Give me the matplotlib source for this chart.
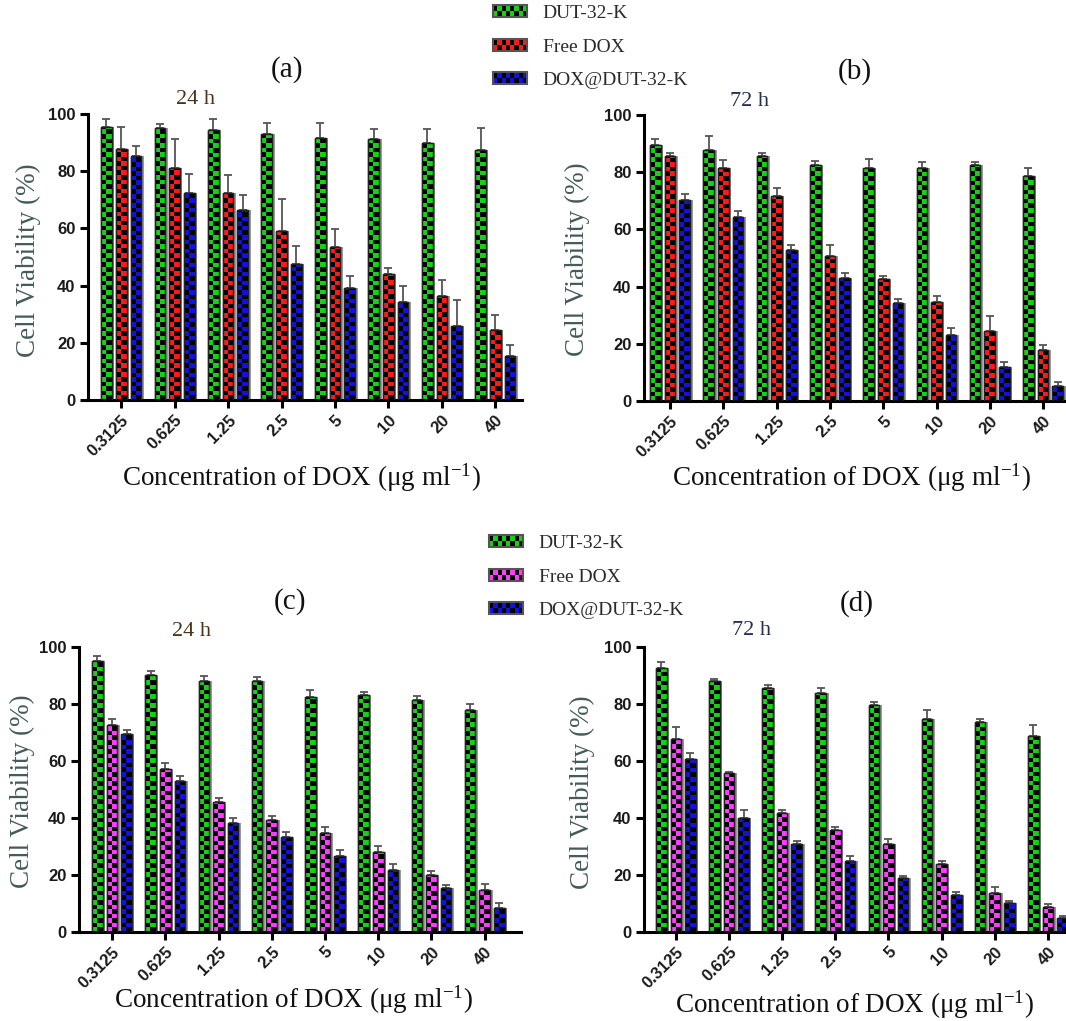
import numpy as np
import matplotlib
matplotlib.use('Agg')
import matplotlib.pyplot as plt
import matplotlib.patheffects as pe
from matplotlib.colors import ListedColormap
from matplotlib.patches import Patch, Rectangle
from matplotlib.legend_handler import HandlerBase

plt.rcParams['mathtext.fontset'] = 'custom'
plt.rcParams['mathtext.rm'] = 'Liberation Serif'
plt.rcParams['mathtext.it'] = 'Liberation Serif:italic'

conc = ['0.3125', '0.625', '1.25', '2.5', '5', '10', '20', '40']
series = ['DUT-32-K', 'Free DOX', 'DOX@DUT-32-K']

# (a) 24 h
a_dut = [95.6, 95.2, 94.3, 93.1, 91.7, 91.1, 90.0, 87.3]
a_dut_sd = [2.5, 1.3, 3.8, 3.6, 5.0, 3.8, 4.6, 7.9]
a_free = [87.8, 81.2, 72.3, 59.2, 53.4, 44.1, 36.4, 24.5]
a_free_sd = [7.5, 10.1, 6.3, 11.1, 6.4, 2.2, 5.4, 5.3]
a_dox = [85.3, 72.3, 66.3, 47.4, 39.3, 34.4, 26.0, 15.5]
a_dox_sd = [3.6, 6.6, 5.4, 6.6, 4.2, 5.5, 9.0, 3.7]

# (b) 72 h
b_dut = [89.5, 87.6, 85.7, 82.6, 81.6, 81.6, 82.6, 78.7]
b_dut_sd = [2.2, 5.1, 0.9, 1.2, 2.9, 2.1, 1.1, 2.9]
b_free = [85.7, 81.6, 71.7, 50.6, 42.5, 34.6, 24.6, 17.7]
b_free_sd = [0.9, 2.8, 2.9, 4.1, 1.2, 2.0, 5.0, 1.9]
b_dox = [70.2, 64.2, 52.7, 43.1, 34.1, 23.1, 11.8, 5.2]
b_dox_sd = [2.3, 2.4, 1.8, 1.5, 1.6, 2.5, 1.8, 1.6]

# (c) 24 h
c_dut = [95.2, 90.2, 88.2, 88.2, 82.3, 83.2, 81.4, 77.9]
c_dut_sd = [1.6, 1.3, 1.5, 1.1, 2.5, 1.0, 1.5, 2.0]
c_free = [72.8, 57.2, 45.5, 39.3, 34.9, 28.0, 20.0, 14.7]
c_free_sd = [2.1, 2.0, 1.6, 1.5, 2.0, 2.0, 1.5, 2.0]
c_dox = [69.3, 53.0, 38.3, 33.3, 26.8, 21.8, 15.4, 8.4]
c_dox_sd = [1.6, 1.8, 1.6, 1.7, 2.1, 2.0, 1.0, 1.6]

# (d) 72 h
d_dut = [92.8, 87.9, 85.6, 83.8, 79.8, 74.9, 73.6, 68.8]
d_dut_sd = [2.1, 0.9, 1.1, 1.8, 0.8, 2.9, 1.3, 4.0]
d_free = [67.8, 55.7, 41.8, 35.8, 30.7, 23.8, 13.8, 8.9]
d_free_sd = [4.0, 0.3, 1.0, 1.0, 2.1, 1.1, 2.0, 1.0]
d_dox = [60.7, 39.9, 30.8, 24.9, 18.8, 13.0, 10.0, 4.9]
d_dox_sd = [2.1, 2.9, 1.1, 1.9, 1.0, 0.9, 1.0, 0.8]

green = '#14d214'
red = '#ff1a1a'
blue = '#1212e0'
pink = '#ff3cff'

SERIF = 'Liberation Serif'
SANS = 'Liberation Sans'


class CheckerHandler(HandlerBase):
    def create_artists(self, legend, orig_handle, xdescent, ydescent,
                       width, height, fontsize, trans):
        color = orig_handle.get_facecolor()
        x0, y0 = -xdescent, -ydescent
        arts = [Rectangle((x0, y0), width, height, facecolor=color,
                          edgecolor='none', transform=trans)]
        ncol, nrow = 8, 2
        cw, ch = width / ncol, height / nrow
        for i in range(ncol):
            for j in range(nrow):
                if (i + j) % 2:
                    arts.append(Rectangle((x0 + i * cw, y0 + j * ch), cw, ch,
                                          facecolor='black', edgecolor='none',
                                          transform=trans))
        arts.append(Rectangle((x0, y0), width, height, facecolor='none',
                              edgecolor='#555555', lw=1.5, transform=trans))
        return arts


def checker_bars(ax, x, vals, sd, color, width=0.2, sq=1.6):
    bars = ax.bar(x, vals, width, color=color, edgecolor='#222222', lw=1.0,
                  zorder=2,
                  path_effects=[pe.SimplePatchShadow(offset=(1.8, 0),
                                                     shadow_rgbFace='#9a9a9a',
                                                     alpha=1.0),
                                pe.Normal()])
    cmap = ListedColormap([color, 'black'])
    for b in bars:
        h = b.get_height()
        nrow = int(np.ceil(h / sq))
        img = (np.add.outer(np.arange(nrow), np.arange(2)) % 2)[::-1]
        im = ax.imshow(img, cmap=cmap, vmin=0, vmax=1, aspect='auto',
                       interpolation='nearest', zorder=2.5,
                       extent=(b.get_x(), b.get_x() + b.get_width(), 0, nrow * sq))
        im.set_clip_path(b)
        ax.add_patch(Rectangle((b.get_x(), 0), b.get_width(), h, facecolor='none',
                               edgecolor='#222222', lw=1.0, zorder=2.6))
    ax.errorbar(x, vals, yerr=[np.zeros(len(vals)), sd], fmt='none',
                ecolor='#555555', elinewidth=1.3, capsize=3, capthick=1.3,
                zorder=1.8)


def panel(rect, xlim, data, colors):
    ax = fig.add_axes(rect)
    x = np.arange(len(conc))
    offs = [-0.275, 0.0, 0.275]
    for (vals, sd), c, o in zip(data, colors, offs):
        checker_bars(ax, x + o, vals, sd, c)
    ax.set_xlim(*xlim)
    ax.set_ylim(0, 100)
    ax.set_yticks([0, 20, 40, 60, 80, 100])
    ax.set_xticks(x)
    ax.set_xticklabels(conc, rotation=45, ha='right', rotation_mode='anchor')
    for s in ['top', 'right']:
        ax.spines[s].set_visible(False)
    for s in ['left', 'bottom']:
        ax.spines[s].set_linewidth(2.2)
    ax.tick_params(direction='out', length=6, width=2.2, pad=3)
    for lab in ax.get_xticklabels() + ax.get_yticklabels():
        lab.set_fontfamily(SANS)
        lab.set_fontweight('bold')
        lab.set_fontsize(12)
        lab.set_color('#1a1a1a')
    return ax


fig = plt.figure(figsize=(10.66, 10.21), dpi=100)

panel([0.0826, 0.6082, 0.4071, 0.2801], (-0.62, 7.5),
      [(a_dut, a_dut_sd), (a_free, a_free_sd), (a_dox, a_dox_sd)],
      [green, red, blue])
panel([0.6041, 0.6072, 0.3959, 0.2802], (-0.49, 7.43),
      [(b_dut, b_dut_sd), (b_free, b_free_sd), (b_dox, b_dox_sd)],
      [green, red, blue])
panel([0.0741, 0.0872, 0.4146, 0.2791], (-0.62, 7.68),
      [(c_dut, c_dut_sd), (c_free, c_free_sd), (c_dox, c_dox_sd)],
      [green, pink, blue])
panel([0.6041, 0.0872, 0.3959, 0.2791], (-0.60, 7.34),
      [(d_dut, d_dut_sd), (d_free, d_free_sd), (d_dox, d_dox_sd)],
      [green, pink, blue])

W, H = 1066.0, 1021.0


def ftext(px, py, s, **kw):
    fig.text(px / W, 1 - py / H, s, ha='center', va='center', **kw)


xlab = 'Concentration of DOX (\u03bcg ml$^{\\mathregular{-1}}$)'
ylab = 'Cell Viability (%)'
ycol = '#455a5a'

for (px, py, s) in [(287, 70, '(a)'), (855, 72, '(b)'), (290, 602, '(c)'), (857, 604, '(d)')]:
    ftext(px, py, s, fontsize=21, family=SERIF, color='#111111')
for (px, py, s, c) in [(196, 100, '24 h', '#4a3418'), (750, 101, '72 h', '#243050'),
                       (192, 632, '24 h', '#4a3418'), (752, 630, '72 h', '#243050')]:
    ftext(px, py, s, fontsize=16, family=SERIF, color=c)
for (px, py) in [(28, 260), (577, 259), (22, 791), (582, 792)]:
    ftext(px, py, ylab, fontsize=19.5, family=SERIF, color=ycol, rotation=90)
for (px, py) in [(301, 478), (851, 478), (293, 1000), (854, 1005)]:
    ftext(px, py, xlab, fontsize=19.5, family=SERIF, color='#111111')

# legends
for top_py, left_px, cols in [(5, 493, [green, red, blue]), (535, 489, [green, pink, blue])]:
    handles = [Patch(facecolor=c) for c in cols]
    fig.legend(handles, series, loc='upper left',
               bbox_to_anchor=(left_px / W, 1 - top_py / H),
               frameon=False, handler_map={Patch: CheckerHandler()},
               prop={'family': SERIF, 'size': 14}, labelcolor='#2a2a2a',
               handlelength=1.75, handleheight=0.55, handletextpad=0.8,
               labelspacing=0.85, borderaxespad=0, borderpad=0)

fig.savefig('out.png', dpi=100)
